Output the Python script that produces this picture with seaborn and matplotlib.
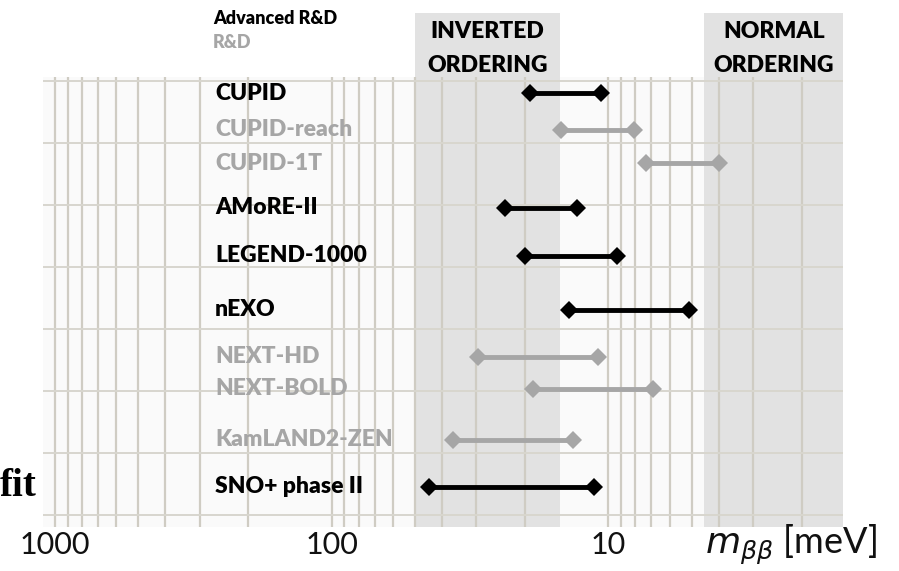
import numpy as np
import pandas as pd
import matplotlib
matplotlib.use("Agg")
import matplotlib.pyplot as plt
import matplotlib.transforms as mtransforms
from matplotlib.ticker import FixedLocator, LogLocator, NullFormatter
import seaborn as sns

# ---------------- data ----------------
experiments = ["CUPID", "CUPID-reach", "CUPID-1T", "AMoRE-II", "LEGEND-1000",
               "nEXO", "NEXT-HD", "NEXT-BOLD", "KamLAND2-ZEN", "SNO+ phase II"]
mbb_high = [19.2, 14.8, 7.3, 23.6, 20.1, 13.9, 29.7, 18.8, 36.3, 44.5]   # meV
mbb_low = [10.6, 8.1, 4.0, 13.0, 9.3, 5.1, 10.9, 6.9, 13.4, 11.3]        # meV
status = ["Advanced R&D", "R&D", "R&D", "Advanced R&D", "Advanced R&D",
          "Advanced R&D", "R&D", "R&D", "R&D", "Advanced R&D"]
row_y = [93, 130, 163, 208, 256, 310, 357, 389, 440, 487]
inverted_band = (15, 50)
normal_band = (1.42, 4.5)
x_ticks = [1000, 100, 10]
x_tick_labels = ["1000", "100", "10"]
status_colors = {"Advanced R&D": "#000000", "R&D": "#a6a6a6"}

# ---------------- style ----------------
sns.set_theme(style="white")
plt.rcParams["font.family"] = ["Lato", "DejaVu Sans"]
plt.rcParams["mathtext.fontset"] = "dejavusans"

W, H = 899, 571
fig = plt.figure(figsize=(W / 100, H / 100), dpi=100)
fig.patch.set_facecolor("white")
ax = fig.add_axes([43 / W, 1 - 527 / H, 800 / W, 450 / H])
ax.set_xscale("log")
ax.set_xlim(1105, 1.42)
ax.set_ylim(527, 77)
ax.set_facecolor("#fafafa")
for s in ax.spines.values():
    s.set_visible(False)

# ordering bands (extend above the gridded area)
band_top = (527 - 13) / 450
for lo, hi in (inverted_band, normal_band):
    ax.axvspan(lo, hi, ymin=0, ymax=band_top, color="#e2e2e2", zorder=0.2,
               clip_on=False, lw=0)

# grid
ax.xaxis.set_major_locator(FixedLocator(x_ticks))
ax.xaxis.set_minor_locator(LogLocator(base=10, subs=np.arange(2, 10), numticks=20))
ax.xaxis.set_minor_formatter(NullFormatter())
ax.set_xticklabels(x_tick_labels, fontsize=22, color="#111111")
ax.set_yticks(np.linspace(81, 515, 8))
ax.set_yticklabels([])
ax.tick_params(axis="both", which="both", length=0, pad=3)
ax.set_axisbelow(True)
ax.grid(axis="x", which="both", color="#cfccc3", lw=1.6)
ax.grid(axis="y", which="major", color="#d8d6ce", lw=1.4)

# ranges
df = pd.DataFrame({
    "experiment": experiments * 2,
    "mbb": mbb_high + mbb_low,
    "row": row_y * 2,
    "status": status * 2,
})
sns.lineplot(data=df, x="mbb", y="row", units="experiment", estimator=None,
             hue="status", palette=status_colors, marker="D", markersize=9,
             markeredgewidth=0, lw=3.5, sort=False, legend=False, ax=ax,
             zorder=3)
ax.set_xlabel("")
ax.set_ylabel("")

# experiment labels
trans = mtransforms.blended_transform_factory(ax.transAxes, ax.transData)
for name, y, st in zip(experiments, row_y, status):
    ax.text((215 - 43) / 800, y, name, transform=trans, ha="left", va="center",
            fontsize=16.5, fontweight="heavy", color=status_colors[st], zorder=4)

# band labels
inv_c = np.sqrt(inverted_band[0] * inverted_band[1])
norm_c = 10 ** ((np.log10(4.5) + np.log10(1.42)) / 2)
for xc, l1, l2 in ((inv_c, "INVERTED", "ORDERING"),
                   (norm_c, "NORMAL", "ORDERING")):
    ax.text(xc, 32, l1, ha="center", va="center", fontsize=16.5,
            fontweight="heavy", color="black", clip_on=False)
    ax.text(xc, 65, l2, ha="center", va="center", fontsize=16.5,
            fontweight="heavy", color="black", clip_on=False)

# legend texts
fig.text(213 / W, 1 - 18 / H, "Advanced R&D", ha="left", va="center",
         fontsize=13, fontweight="heavy", color="black")
fig.text(213 / W, 1 - 42 / H, "R&D", ha="left", va="center",
         fontsize=13, fontweight="heavy", color="#a6a6a6")

# axis title
fig.text(705 / W, 1 - 545 / H, r"$m_{\beta\beta}$ [meV]", ha="left",
         va="center", fontsize=26, color="#111111")

# slide fragment on the left
fig.text(37 / W, 1 - 487 / H, "fit", ha="right", va="center",
         family=["Liberation Serif", "DejaVu Serif"], fontweight="bold",
         fontsize=28, color="black")

fig.savefig("out.png", dpi=100)
